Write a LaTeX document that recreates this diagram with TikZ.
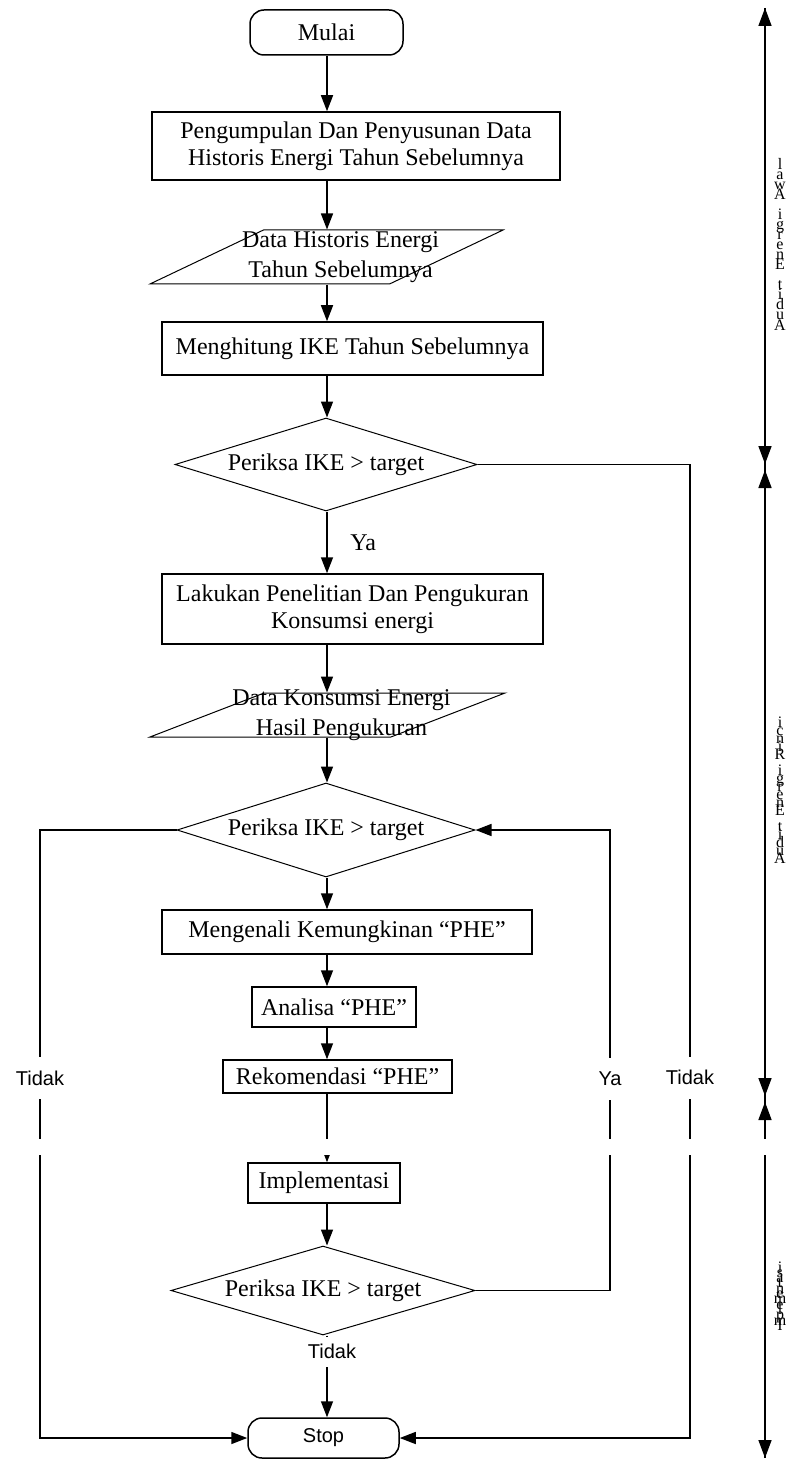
\documentclass[tikz,border=0pt]{standalone}
\usepackage{fontspec}
\setmainfont{Liberation Serif}
\setsansfont{Liberation Sans}
\usetikzlibrary{arrows.meta}
\usetikzlibrary{shapes.geometric}
\tikzset{proses/.style={draw, line width=0.75pt, inner sep=0pt, align=center, font=\fontsize{12}{13.5}\selectfont},
	terminal/.style={proses, rounded corners=7pt},
	periksa/.style={draw, diamond, aspect=3.2, line width=0.5pt, inner sep=0pt, font=\fontsize{12}{14}\selectfont},
	dataio/.style={draw, trapezium, trapezium left angle=48, trapezium right angle=132, trapezium stretches=true, line width=0.5pt, inner sep=1pt},
	datateks/.style={align=center, inner sep=0pt, font=\fontsize{12}{15}\selectfont},
	panah/.style={-{Triangle[width=6pt,length=8pt]}, line width=0.75pt},
	batas/.style={{Triangle[width=6.5pt,length=9pt]}-{Triangle[width=6.5pt,length=9pt]}, line width=0.75pt},
	ket/.style={fill=white, font=\sffamily\fontsize{10}{12}\selectfont, inner xsep=1pt, inner ysep=7pt, text height=7pt, text depth=0pt},
	huruf/.style={anchor=base, inner sep=0pt, font=\fontsize{8}{8}\selectfont}}
\begin{document}
\begin{tikzpicture}[x=0.5pt,y=-0.5pt]
	\useasboundingbox (0,0) rectangle (793,1460);
	\coordinate (poros) at (327,0);
	\coordinate (kiri) at (40,0);
	\coordinate (balik) at (610,0);
	\coordinate (kanan) at (690,0);

	% alur utama
	\node[terminal, minimum width=76.5pt, minimum height=22.5pt] (mulai) at (326.5,32.5) {Mulai};
	\node[proses, minimum width=204pt, minimum height=34pt] (kumpul) at (356,146) {Pengumpulan Dan Penyusunan Data\\Historis Energi Tahun Sebelumnya};
	\node[dataio, minimum width=176.5pt, minimum height=27pt, label={[datateks, xshift=7pt]center:{Data Historis Energi\\Tahun Sebelumnya}}] (data1) at (326.5,257) {};
	\node[proses, minimum width=190.5pt, minimum height=26.5pt] (hitung) at (352.5,348.5) {Menghitung IKE Tahun Sebelumnya};
	\node[periksa, minimum width=151pt, minimum height=46.5pt] (d1) at (326,464.5) {Periksa IKE > target};
	\node[proses, minimum width=190.5pt, minimum height=35pt] (teliti) at (352.5,609) {Lakukan Penelitian Dan Pengukuran\\Konsumsi energi};
	\node[dataio, minimum width=177.5pt, minimum height=22pt, label={[datateks, xshift=7pt]center:{Data Konsumsi Energi\\Hasil Pengukuran}}] (data2) at (327.5,715) {};
	\node[periksa, minimum width=149pt, minimum height=47pt] (d2) at (326,830) {Periksa IKE > target};
	\node[proses, minimum width=185pt, minimum height=22pt] (kenal) at (347,932) {Mengenali Kemungkinan “PHE”};
	\node[proses, minimum width=82pt, minimum height=20pt] (analisa) at (334,1007) {Analisa “PHE”};
	\node[proses, minimum width=114.5pt, minimum height=16.5pt] (rekom) at (337.5,1076.5) {Rekomendasi “PHE”};
	\node[proses, minimum width=76pt, minimum height=20pt] (impl) at (324,1183) {Implementasi};
	\node[periksa, minimum width=152pt, minimum height=44.5pt] (d3) at (323,1290.5) {Periksa IKE > target};
	\node[terminal, minimum width=75.5pt, minimum height=20pt, font=\sffamily\fontsize{10}{12}\selectfont] (stop) at (323.5,1438) {Stop};

	\draw[panah] (poros |- mulai.south) -- (poros |- kumpul.north);
	\draw[panah] (poros |- kumpul.south) -- (poros |- data1.north);
	\draw[panah] (poros |- data1.south) -- (poros |- hitung.north);
	\draw[panah] (poros |- hitung.south) -- (poros |- d1.north);
	\draw[panah] (poros |- d1.south) -- node[right=8pt, font=\fontsize{12}{14}\selectfont] {Ya} (poros |- teliti.north);
	\draw[panah] (poros |- teliti.south) -- (poros |- data2.north);
	\draw[panah] (poros |- data2.south) -- (poros |- d2.north);
	\draw[panah] (poros |- d2.south) -- (poros |- kenal.north);
	\draw[panah] (poros |- kenal.south) -- (poros |- analisa.north);
	\draw[panah] (poros |- analisa.south) -- (poros |- rekom.north);
	\draw[panah] (poros |- rekom.south) -- (poros |- impl.north);
	\draw[panah] (poros |- impl.south) -- (poros |- d3.north);
	\draw[panah] (poros |- d3.south) -- node[ket, inner ysep=4pt, pos=0.2, xshift=2.5pt] {Tidak} (poros |- stop.north);

	% cabang
	\draw[panah] (d1.east) -- (kanan |- d1.east) -- node[ket, pos=0.63] {Tidak} (kanan |- stop.east) -- (stop.east);
	\draw[panah] (d2.west) -- (kiri |- d2.west) -- node[ket, pos=0.408] {Tidak} (kiri |- stop.west) -- (stop.west);
	\draw[panah] (d3.east) -- (balik |- d3.east) -- node[ket, pos=0.46] {Ya} (balik |- d2.east) -- (d2.east);

	% tahapan
	\coordinate (s0) at (765,8);
	\coordinate (s1) at (765,464);
	\coordinate (s2) at (765,470);
	\coordinate (s3) at (765,1096);
	\coordinate (s4) at (765,1102);
	\coordinate (s5) at (765,1458);
	\draw[line width=0.75pt] (s0) -- (s5);
	\draw[batas] (s0) -- (s1);
	\draw[batas] (s2) -- (s3);
	\draw[batas] (s4) -- (s5);
	\foreach \h/\k in {l/0,a/1,w/2,A/3,i/5,g/6,r/7,e/8,n/9,E/10,t/12,i/13,d/14,u/15,A/16}
		\node[huruf] at (780,170+10*\k) {\h};
	\foreach \h/\k in {i/0,c/1,n/2,i/3,R/4,i/6,g/7,r/8,e/9,n/10,E/11,t/13,i/14,d/15,u/16,A/17}
		\node[huruf] at (780,727+8*\k) {\h};
	\foreach \h/\k in {i/0,s/1,a/2,t/3,n/4,e/5,m/6,e/7,l/8,p/9,m/10,I/11}
		\node[huruf] at (780,1272+5.3*\k) {\h};

	% potongan halaman
	\fill[white] (0,1139) rectangle (793,1155);
\end{tikzpicture}
\end{document}
